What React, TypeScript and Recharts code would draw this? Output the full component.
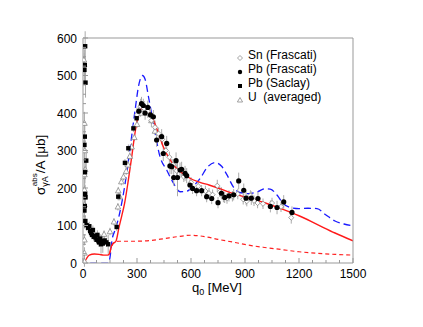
import React from 'react';
import { ComposedChart, XAxis, YAxis, Line, Scatter, ErrorBar, Legend } from 'recharts';

// ---------- data ----------
const redSolidQ = [7, 20, 35, 63, 90, 115, 137, 146, 156, 165, 183, 200, 215, 231, 250, 268, 290, 310, 325, 340, 355, 375, 391, 420, 446, 480, 520, 560, 594, 650, 700, 750, 800, 900, 1000, 1100, 1200, 1300, 1400, 1500];
const redSolidV = [0, 12, 21, 24, 23, 21, 21, 24, 42, 51, 58, 95, 125, 159, 215, 274, 350, 398, 414, 419, 412, 396, 381, 345, 310, 278, 252, 237, 226, 215, 208, 200, 191, 176, 162, 145, 126, 103, 80, 59];

const blueQ = [40, 80, 120, 140, 150, 161, 180, 200, 230, 260, 290, 310, 330, 345, 365, 391, 428, 465, 500, 540, 580, 613, 650, 690, 733, 770, 800, 835, 870, 920, 970, 1010, 1040, 1080, 1110, 1150, 1200, 1250, 1300, 1350, 1400, 1450, 1500];
const blueV = [0, 0, 0, 0, 15, 60, 90, 125, 200, 300, 410, 475, 500, 490, 440, 373, 283, 248, 215, 190, 192, 205, 225, 255, 268, 258, 235, 203, 188, 185, 190, 198, 197, 180, 160, 148, 145, 146, 145, 128, 112, 104, 99];

const redDashQ = [150, 160, 175, 200, 280, 372, 450, 520, 600, 680, 750, 830, 928, 1000, 1100, 1200, 1300, 1400, 1500];
const redDashV = [28, 45, 55, 58, 58, 60, 65, 70, 74, 70, 63, 56, 47, 42, 36, 30, 26, 23, 21];

// Sn (Frascati) - open diamonds
const snQ = [300, 320, 340, 360, 380, 400, 420, 440, 460, 480, 500, 520, 560, 600, 640, 680, 700, 720, 746, 760, 780, 800, 830, 860, 890, 910, 930, 950, 970, 1000, 1050, 1100, 1157];
const snV = [395, 418, 412, 405, 380, 362, 345, 330, 300, 282, 262, 246, 230, 215, 205, 192, 186, 182, 206, 190, 176, 172, 178, 184, 170, 165, 180, 166, 160, 158, 160, 150, 121];
const snE = [20, 20, 20, 18, 18, 18, 16, 16, 16, 15, 15, 15, 14, 14, 14, 14, 14, 14, 16, 14, 14, 14, 14, 14, 14, 14, 14, 14, 14, 14, 14, 14, 16];

// Pb (Frascati) - filled circles
const pbfQ = [310, 325, 335, 345, 360, 375, 391, 409, 437, 446, 465, 483, 493, 504, 517, 525, 539, 548, 567, 576, 594, 609, 631, 659, 687, 715, 750, 769, 787, 811, 837, 865, 893, 906, 935, 972, 1041, 1078, 1115, 1161];
const pbfV = [405, 425, 420, 400, 415, 395, 390, 328, 337, 292, 319, 259, 257, 228, 273, 228, 248, 250, 239, 233, 208, 199, 193, 193, 177, 172, 161, 186, 175, 179, 182, 219, 194, 173, 173, 172, 151, 148, 163, 135];
const pbfE = [18, 18, 18, 18, 18, 18, 18, 18, 20, 20, 20, 22, 20, 22, 22, 50, 20, 20, 20, 20, 15, 15, 15, 15, 15, 15, 15, 16, 15, 15, 15, 22, 18, 18, 18, 18, 16, 18, 18, 16];

// Pb (Saclay) - filled squares
const pbsQ = [12, 10, 8, 14, 10, 8, 18, 11, 12, 14, 10, 8, 13, 20, 28, 35, 40, 45, 50, 55, 60, 65, 70, 75, 80, 85, 90, 95, 100, 105, 110, 120, 130, 140, 187, 196, 233, 252, 280, 298];
const pbsV = [578, 528, 515, 481, 337, 315, 273, 242, 184, 175, 152, 140, 112, 101, 94, 98, 85, 80, 75, 88, 70, 72, 68, 62, 75, 60, 55, 65, 50, 58, 52, 60, 55, 50, 96, 177, 267, 306, 359, 386];
const pbsE = [40, 40, 40, 40, 40, 35, 30, 30, 25, 20, 20, 20, 15, 15, 12, 12, 12, 12, 12, 12, 12, 12, 12, 12, 12, 12, 12, 12, 25, 12, 25, 12, 12, 25, 10, 10, 10, 10, 10, 10];

// U (averaged) - open triangles
const uQ = [5, 6, 8, 10, 12, 8, 8, 8, 8, 8, 8, 8, 117, 150, 172, 194, 196, 204, 213, 225, 240, 250, 260, 270, 285, 300, 320, 340, 360, 380, 400];
const uV = [542, 530, 373, 300, 250, 236, 196, 156, 107, 62, 27, 5, 77, 84, 110, 150, 193, 177, 217, 230, 245, 262, 285, 310, 335, 370, 400, 410, 400, 380, 352];
const uE = [30, 30, 30, 25, 25, 20, 20, 20, 15, 15, 15, 15, 10, 10, 10, 10, 10, 10, 10, 10, 10, 10, 10, 10, 10, 10, 10, 10, 10, 10, 10];

const xMajorTicks = [0, 300, 600, 900, 1200, 1500];
const xAllTicks = [0, 75, 150, 225, 300, 375, 450, 525, 600, 675, 750, 825, 900, 975, 1050, 1125, 1200, 1275, 1350, 1425, 1500];
const yMajorTicks = [0, 100, 200, 300, 400, 500, 600];
const yAllTicks = [0, 25, 50, 75, 100, 125, 150, 175, 200, 225, 250, 275, 300, 325, 350, 375, 400, 425, 450, 475, 500, 525, 550, 575, 600];

const legendLabels = ['Sn (Frascati)', 'Pb (Frascati)', 'Pb (Saclay)', 'U  (averaged)'];

const toPts = (q: number[], v: number[], e?: number[]) => q.map((x, i) => ({ x, y: v[i], e: e ? e[i] : 0 }));

const redSolid = toPts(redSolidQ, redSolidV);
const blueDash = toPts(blueQ, blueV);
const redDash = toPts(redDashQ, redDashV);
const snPts = toPts(snQ, snV, snE);
const pbfPts = toPts(pbfQ, pbfV, pbfE);
const pbsPts = toPts(pbsQ, pbsV, pbsE);
const uPts = toPts(uQ, uV, uE);

// ---------- layout ----------
const W = 423;
const H = 327;
const PLOT = { left: 83, top: 38, right: 353, bottom: 263 };
const FONT = '"Liberation Sans", Arial, Helvetica, sans-serif';
const FRAME = '#999';
const GREY = '#8a8a8a';

const isMajorX = (v: number) => xMajorTicks.includes(v);
const isMajorY = (v: number) => yMajorTicks.includes(v);

const BottomTick = (p: any) => {
  const v = p.payload.value;
  const x = p.x;
  const major = isMajorX(v);
  return (
    <g>
      <line x1={x} x2={x} y1={PLOT.bottom} y2={PLOT.bottom - (major ? 5 : 3)} stroke={FRAME} />
      {major && (
        <text x={x} y={278} textAnchor="middle" fontSize={12} fontFamily={FONT} fill="#000">{v}</text>
      )}
    </g>
  );
};
const TopTick = (p: any) => {
  const v = p.payload.value;
  const x = p.x;
  const major = isMajorX(v);
  return <line x1={x} x2={x} y1={PLOT.top} y2={PLOT.top + (major ? 5 : 3)} stroke={FRAME} />;
};
const LeftTick = (p: any) => {
  const v = p.payload.value;
  const y = p.y;
  const major = isMajorY(v);
  return (
    <g>
      <line x1={PLOT.left} x2={PLOT.left + (major ? 5 : 3)} y1={y} y2={y} stroke={FRAME} />
      {major && (
        <text x={77} y={y + 4.5} textAnchor="end" fontSize={12} fontFamily={FONT} fill="#000">{v}</text>
      )}
    </g>
  );
};
const RightTick = (p: any) => {
  const v = p.payload.value;
  const y = p.y;
  const major = isMajorY(v);
  return <line x1={PLOT.right} x2={PLOT.right - (major ? 5 : 3)} y1={y} y2={y} stroke={FRAME} />;
};

const XLabel = () => (
  <text x={192} y={292} fontSize={13} fontFamily={FONT} fill="#000">
    q<tspan fontSize={9} dy={3}>0</tspan>
    <tspan dy={-3}> [MeV]</tspan>
  </text>
);

const YLabel = () => (
  <g transform="translate(45,195) rotate(-90)">
    <text x={0} y={0} fontSize={13.5} fontFamily={FONT} fill="#000">
      σ<tspan fontSize={9} dy={3}>γA</tspan>
      <tspan fontSize={8} dx={-10} dy={-11}>abs</tspan>
      <tspan fontSize={13.5} dy={8}>/A [μb]</tspan>
    </text>
  </g>
);

// markers
const Diamond = (p: any) => {
  const { cx, cy } = p;
  if (cx == null || cy == null) return <g />;
  const r = 2.6;
  return <path d={`M${cx},${cy - r}L${cx + r},${cy}L${cx},${cy + r}L${cx - r},${cy}Z`} fill="#fff" stroke={GREY} strokeWidth={0.8} />;
};
const Circle = (p: any) => {
  const { cx, cy } = p;
  if (cx == null || cy == null) return <g />;
  return <circle cx={cx} cy={cy} r={2.6} fill="#000" />;
};
const Square = (p: any) => {
  const { cx, cy } = p;
  if (cx == null || cy == null) return <g />;
  return <rect x={cx - 2.2} y={cy - 2.2} width={4.4} height={4.4} fill="#000" />;
};
const Triangle = (p: any) => {
  const { cx, cy } = p;
  if (cx == null || cy == null) return <g />;
  const r = 2.8;
  return <path d={`M${cx},${cy - r}L${cx + r},${cy + r * 0.8}L${cx - r},${cy + r * 0.8}Z`} fill="#fff" stroke={GREY} strokeWidth={0.8} />;
};

const LegendIcon = ({ i }: { i: number }) => {
  const c = 4;
  if (i === 0) return <svg width={8} height={8}><path d="M4,1.5L6.5,4L4,6.5L1.5,4Z" fill="#fff" stroke={GREY} strokeWidth={0.8} /></svg>;
  if (i === 1) return <svg width={8} height={8}><circle cx={c} cy={c} r={2.2} fill="#000" /></svg>;
  if (i === 2) return <svg width={8} height={8}><rect x={2} y={2} width={4} height={4} fill="#000" /></svg>;
  return <svg width={8} height={8}><path d="M4,1.5L6.6,6L1.4,6Z" fill="#fff" stroke={GREY} strokeWidth={0.8} /></svg>;
};

const LegendBox = () => (
  <div style={{ fontFamily: FONT, fontSize: 12, color: '#000', lineHeight: '14px' }}>
    {legendLabels.map((t, i) => (
      <div key={t} style={{ display: 'flex', alignItems: 'center', height: 14, whiteSpace: 'pre' }}>
        <span style={{ display: 'inline-block', width: 10, height: 8, marginRight: 2 }}><LegendIcon i={i} /></span>
        <span>{t}</span>
      </div>
    ))}
  </div>
);

export default function App() {
  return (
    <div style={{ position: 'absolute', left: 0, top: 0, width: W, height: H, background: '#fff' }}>
      <ComposedChart
        width={W}
        height={H}
        margin={{ top: 37, right: 69, bottom: 34, left: 43 }}
      >
        <XAxis
          xAxisId={0}
          dataKey="x"
          type="number"
          domain={[0, 1500]}
          ticks={xAllTicks}
          interval={0}
          allowDataOverflow
          height={30}
          tickLine={false}
          axisLine={{ stroke: '#bbb', strokeWidth: 1.5 }}
          tick={<BottomTick />}
          label={<XLabel />}
        />
        <XAxis
          xAxisId="top"
          orientation="top"
          type="number"
          domain={[0, 1500]}
          ticks={xAllTicks}
          interval={0}
          height={1}
          tickLine={false}
          axisLine={{ stroke: FRAME }}
          tick={<TopTick />}
        />
        <YAxis
          yAxisId={0}
          type="number"
          domain={[0, 600]}
          ticks={yAllTicks}
          interval={0}
          allowDataOverflow
          width={40}
          tickLine={false}
          axisLine={{ stroke: '#bbb', strokeWidth: 1.5 }}
          tick={<LeftTick />}
          label={<YLabel />}
        />
        <YAxis
          yAxisId="right"
          orientation="right"
          type="number"
          domain={[0, 600]}
          ticks={yAllTicks}
          interval={0}
          width={1}
          tickLine={false}
          axisLine={{ stroke: FRAME }}
          tick={<RightTick />}
        />
        <Line data={redDash} dataKey="y" type="monotone" stroke="#ff2020" strokeWidth={1.2} strokeDasharray="4 3" dot={false} isAnimationActive={false} />
        <Line data={blueDash} dataKey="y" type="monotone" stroke="#1a1aff" strokeWidth={1.3} strokeDasharray="7 4" dot={false} isAnimationActive={false} />
        <Scatter data={uPts} dataKey="y" shape={<Triangle />} isAnimationActive={false}>
          <ErrorBar dataKey="e" direction="y" width={0} stroke="#aaa" strokeWidth={1} />
        </Scatter>
        <Scatter data={snPts} dataKey="y" shape={<Diamond />} isAnimationActive={false}>
          <ErrorBar dataKey="e" direction="y" width={0} stroke="#aaa" strokeWidth={1} />
        </Scatter>
        <Scatter data={pbsPts} dataKey="y" shape={<Square />} isAnimationActive={false}>
          <ErrorBar dataKey="e" direction="y" width={0} stroke="#aaa" strokeWidth={1} />
        </Scatter>
        <Scatter data={pbfPts} dataKey="y" shape={<Circle />} isAnimationActive={false}>
          <ErrorBar dataKey="e" direction="y" width={0} stroke="#aaa" strokeWidth={1} />
        </Scatter>
        <Line data={redSolid} dataKey="y" type="monotone" stroke="#ff1a1a" strokeWidth={1.4} dot={false} isAnimationActive={false} />
        <Legend
          layout="vertical"
          align="center"
          verticalAlign="middle"
          content={<LegendBox />}
          wrapperStyle={{ position: 'absolute', left: 236, top: 48, width: 110, height: 60 }}
        />
      </ComposedChart>
    </div>
  );
}
